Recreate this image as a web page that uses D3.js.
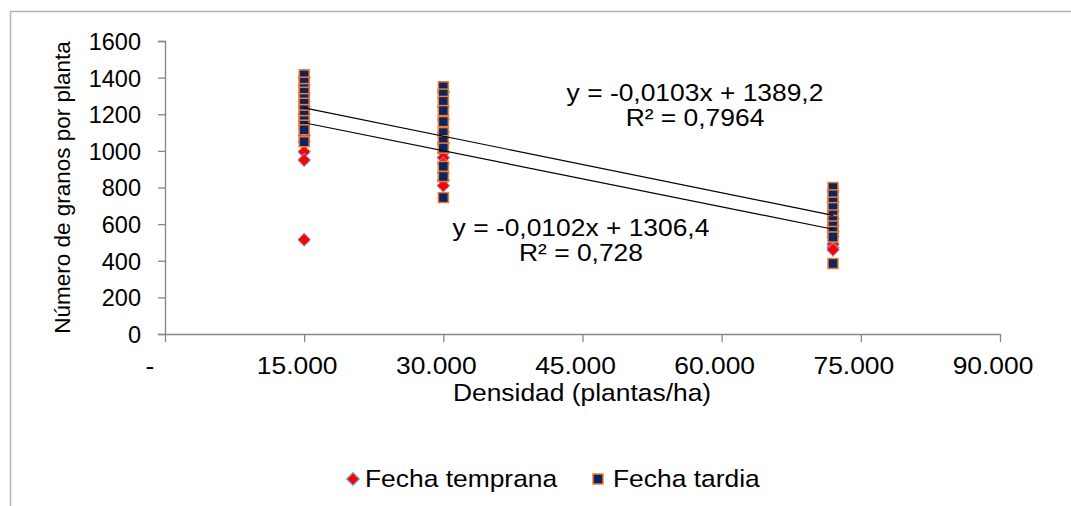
<!DOCTYPE html>
<html>
<head>
<meta charset="utf-8">
<script src="https://cdn.jsdelivr.net/npm/d3@7"></script>
<style>
  html, body { margin: 0; padding: 0; background: #fff; }
  svg { display: block; font-family: "Liberation Sans", Arial, sans-serif; }
</style>
</head>
<body>
<svg id="chart" width="1071" height="506"></svg>
<script>
// Plant densities sampled (plants/ha)
const densities = [15000, 30000, 72000];

// Grains per plant, one list per density
const tempranaValues = [
  [1400, 1360, 1310, 1270, 1240, 1200, 1160, 1085, 1050, 995, 950, 515],
  [1320, 1240, 1170, 1100, 1040, 990, 963, 930, 880, 840, 810],
  [780, 720, 670, 630, 590, 560, 530, 490, 470, 460]
];
const tardiaValues = [
  [1415, 1375, 1340, 1320, 1285, 1260, 1225, 1195, 1165, 1140, 1115, 1050],
  [1350, 1310, 1270, 1220, 1160, 1100, 1055, 1015, 915, 860, 745],
  [800, 760, 720, 690, 650, 620, 590, 560, 530, 385]
];

// Linear trendlines: [slope, intercept, R²]
const trendTemprana = [-0.0102, 1306.4, 0.728];
const trendTardia = [-0.0103, 1389.2, 0.7964];
const trendRange = [15000, 72000];

const seriesNames = ["Fecha temprana", "Fecha tardia"];
const xTicks = [0, 15000, 30000, 45000, 60000, 75000, 90000];
const xTickLabels = ["-", "15.000", "30.000", "45.000", "60.000", "75.000", "90.000"];
const yTicks = [0, 200, 400, 600, 800, 1000, 1200, 1400, 1600];

const svg = d3.select("#chart");
const axisColor = "#868686";
const fs = 24;      // base font size
const sx = 1.1;     // horizontal widening of the lettering

// Outer chart frame
svg.append("rect")
  .attr("x", 10.5).attr("y", 11.5)
  .attr("width", 1100).attr("height", 600)
  .attr("fill", "none").attr("stroke", "#b3b3b3").attr("stroke-width", 1.5);

const x = d3.scaleLinear().domain([0, 90000]).range([165, 1000]);
const y = d3.scaleLinear().domain([0, 1600]).range([334, 41]);

// Horizontal text helper, widened slightly around its anchor
function label(parent, str, px, py, anchor) {
  return parent.append("text")
    .attr("transform", `translate(${px},${py}) scale(${sx},1)`)
    .attr("text-anchor", anchor || "start")
    .attr("font-size", fs)
    .attr("fill", "#000")
    .text(str);
}

// Y axis
const yAxis = svg.append("g").attr("transform", `translate(${x(0)},0)`)
  .call(d3.axisLeft(y).tickValues(yTicks).tickSize(7).tickPadding(17).tickFormat(d3.format("d")));
yAxis.select(".domain").attr("stroke", axisColor).attr("stroke-width", 1.3);
yAxis.selectAll(".tick line").attr("stroke", axisColor).attr("stroke-width", 1.3);
yAxis.selectAll(".tick text")
  .attr("fill", "#000").attr("font-size", 23.5)
  .attr("font-family", "Liberation Sans, Arial, sans-serif")
  .attr("dy", "0.36em");

// X axis
const xAxis = svg.append("g").attr("transform", `translate(0,${y(0)})`)
  .call(d3.axisBottom(x).tickValues(xTicks).tickSize(8).tickSizeOuter(0).tickFormat(() => ""));
xAxis.select(".domain").attr("stroke", axisColor).attr("stroke-width", 1.3);
xAxis.selectAll(".tick line").attr("stroke", axisColor).attr("stroke-width", 1.3);
const xLabels = svg.append("g");
xTicks.forEach((t, i) => {
  label(xLabels, xTickLabels[i], x(t) + (i === 0 ? -15 : -7), 374, "middle");
});

// Axis titles
svg.append("text")
  .attr("transform", `translate(70,${(y(0) + y(1600)) / 2}) rotate(-90)`)
  .attr("text-anchor", "middle")
  .attr("font-size", 22.5)
  .text("Número de granos por planta");

label(svg, "Densidad (plantas/ha)", 582, 401, "middle");

// Flatten nested values into points
function toPoints(values) {
  const pts = [];
  values.forEach((list, i) => list.forEach(v => pts.push({ x: densities[i], y: v })));
  return pts;
}

const diamond = d3.symbol().type(d3.symbolSquare).size(82);

// Fecha temprana: red diamonds with light blue outline
svg.append("g").selectAll("path")
  .data(toPoints(tempranaValues))
  .join("path")
  .attr("d", diamond)
  .attr("transform", d => `translate(${x(d.x)},${y(d.y)}) rotate(45)`)
  .attr("fill", "#ff0000")
  .attr("stroke", "#7aa9de")
  .attr("stroke-width", 1.2)
  .attr("stroke-dasharray", "1.5,1");

// Fecha tardia: navy squares with orange outline
const sq = 10;
svg.append("g").selectAll("rect")
  .data(toPoints(tardiaValues))
  .join("rect")
  .attr("x", d => x(d.x) - sq / 2)
  .attr("y", d => y(d.y) - sq / 2)
  .attr("width", sq).attr("height", sq)
  .attr("fill", "#0c2461")
  .attr("stroke", "#ee7d31")
  .attr("stroke-width", 1.5);

// Trendlines
[trendTardia, trendTemprana].forEach(t => {
  svg.append("line")
    .attr("x1", x(trendRange[0])).attr("y1", y(t[0] * trendRange[0] + t[1]))
    .attr("x2", x(trendRange[1])).attr("y2", y(t[0] * trendRange[1] + t[1]))
    .attr("stroke", "#000").attr("stroke-width", 1.2);
});

// Trendline equations
const fmt = v => String(v).replace(".", ",");
function eqLabel(t, cx, cy) {
  const g = svg.append("g");
  label(g, `y = ${fmt(t[0])}x + ${fmt(t[1])}`, cx, cy, "middle");
  label(g, `R² = ${fmt(t[2])}`, cx, cy + 25, "middle");
}
eqLabel(trendTardia, 695, 101);
eqLabel(trendTemprana, 581, 236);

// Legend
const legend = svg.append("g");
legend.append("path")
  .attr("d", diamond)
  .attr("transform", "translate(353,479) rotate(45)")
  .attr("fill", "#ff0000").attr("stroke", "#7aa9de").attr("stroke-width", 1.2);
label(legend, seriesNames[0], 365, 487);
legend.append("rect")
  .attr("x", 593).attr("y", 474).attr("width", 10).attr("height", 10)
  .attr("fill", "#0c2461").attr("stroke", "#ee7d31").attr("stroke-width", 1.5);
label(legend, seriesNames[1], 613, 487);
</script>
</body>
</html>
